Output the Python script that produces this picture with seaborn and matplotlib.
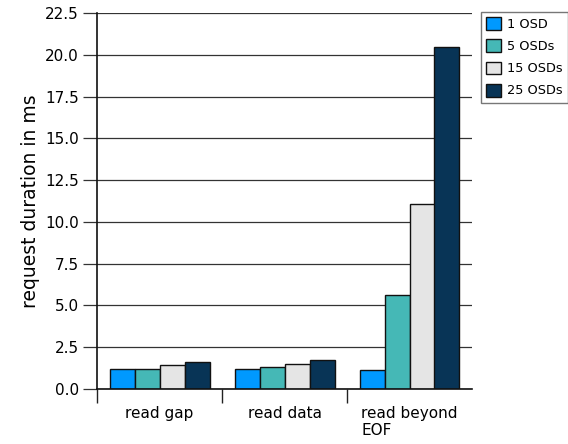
import numpy as np
import pandas as pd
import seaborn as sns
import matplotlib.pyplot as plt

categories = ["read gap", "read data", "read beyond\nEOF"]
osd_labels = ["1 OSD", "5 OSDs", "15 OSDs", "25 OSDs"]
osd_1 = [1.18, 1.20, 1.14]
osd_5 = [1.18, 1.30, 5.64]
osd_15 = [1.44, 1.50, 11.05]
osd_25 = [1.60, 1.75, 20.48]
colors = ["#0099ff", "#45b8b6", "#e5e5e5", "#083456"]

rows = []
for lab, vals in zip(osd_labels, [osd_1, osd_5, osd_15, osd_25]):
    for cat, v in zip(categories, vals):
        rows.append({"operation": cat, "osds": lab, "ms": v})
df = pd.DataFrame(rows)

sns.set_style("white")
plt.rcParams["font.family"] = ["DejaVu Sans"]
plt.rcParams["text.color"] = "black"
plt.rcParams["xtick.color"] = "black"
plt.rcParams["ytick.color"] = "black"
plt.rcParams["axes.labelcolor"] = "black"

fig = plt.figure(figsize=(5.68, 4.44), dpi=100)
ax = fig.add_axes([97 / 568, 1 - 389 / 444, 375 / 568, 376 / 444])

sns.barplot(data=df, x="operation", y="ms", hue="osds", order=categories,
            hue_order=osd_labels, palette=colors, saturation=1, width=0.8, gap=0,
            edgecolor="#111111", linewidth=1, ax=ax, legend=True)

ax.set_xlim(-0.5, 2.5)
ax.set_ylim(0, 22.5)
ax.set_yticks(np.arange(0, 22.6, 2.5))
ax.set_yticklabels([f"{t:.1f}" for t in np.arange(0, 22.6, 2.5)], fontsize=11)
ax.yaxis.grid(True, color="#333333", linewidth=0.9)
ax.set_axisbelow(True)

# group boundary ticks on x, labels centred in groups
ax.set_xticks([-0.5, 0.5, 1.5])
ax.set_xticklabels([])
ax.set_xticks([0, 1, 2], minor=True)
ax.set_xticklabels(categories, minor=True, fontsize=11, multialignment="left")
ax.tick_params(axis="x", which="minor", bottom=False, length=0, pad=12)
ax.tick_params(axis="x", which="major", bottom=True, length=10, width=1,
               color="#222222", direction="out")
ax.tick_params(axis="y", left=True, length=10, width=0.9, color="#333333",
               direction="out", pad=3)

for s in ["top", "right"]:
    ax.spines[s].set_visible(False)
for s in ["left", "bottom"]:
    ax.spines[s].set_color("#111111")
    ax.spines[s].set_linewidth(1.2)

ax.set_xlabel("")
ax.set_ylabel("request duration in ms", fontsize=13.5, labelpad=4)

handles, labels = ax.get_legend_handles_labels()
ax.legend(handles, labels, loc="upper left", bbox_to_anchor=(481 / 568, 1 - 12 / 444),
          bbox_transform=fig.transFigure, fontsize=9.3, frameon=True, fancybox=False,
          edgecolor="#555555", handlelength=1.15, handleheight=1.15, handletextpad=0.5,
          labelspacing=0.65, borderpad=0.4, borderaxespad=0)

fig.savefig("out.png", dpi=100)
